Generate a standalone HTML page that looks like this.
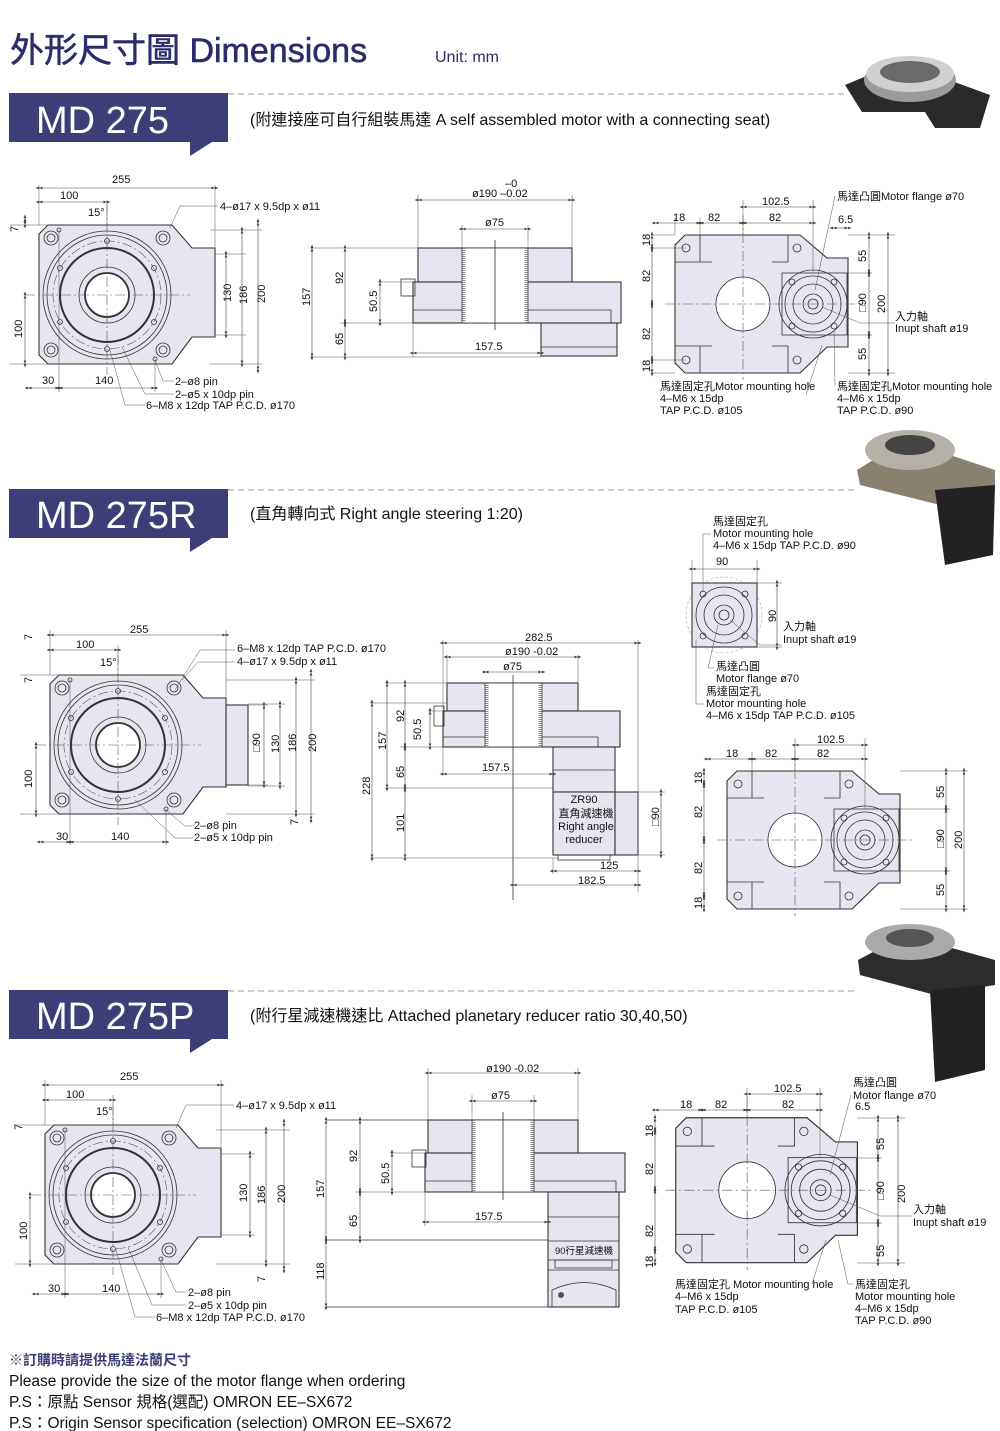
<!DOCTYPE html>
<html><head><meta charset="utf-8"><style>
html,body{margin:0;padding:0;background:#fff}
svg{display:block}
text{font-family:"Liberation Sans","Noto Sans CJK TC",sans-serif;fill:#111}
.s{font-size:11px}
.b{fill:#e6e6f1;stroke:#333;stroke-width:1.1}
.l{fill:none;stroke:#333;stroke-width:0.8}
.t{fill:none;stroke:#333;stroke-width:2}
.c{fill:none;stroke:#555;stroke-width:0.6;stroke-dasharray:10 3 2 3}
.d{fill:none;stroke:#444;stroke-width:0.6;marker-start:url(#a);marker-end:url(#a)}
.e{fill:none;stroke:#555;stroke-width:0.5}
</style></head><body>
<svg width="1000" height="1431" viewBox="0 0 1000 1431" xmlns="http://www.w3.org/2000/svg">
<defs>
<marker id="a" viewBox="0 0 10 10" refX="5" refY="5" markerWidth="7" markerHeight="7" orient="auto-start-reverse" markerUnits="userSpaceOnUse"><path d="M0,3 L5,5 L0,7 Z M5,3 L10,5 L5,7Z" fill="#444"/></marker>
<g id="tv">
<path class="b" d="M48,225 L172,225 L192,248 L215,248 L215,337 L192,337 L172,364 L48,364 L39,355 L39,234 Z"/>
<circle class="l" cx="107" cy="295" r="64"/>
<circle class="l" cx="107" cy="295" r="60"/>
<circle class="c" cx="107" cy="295" r="54"/>
<circle class="t" cx="107" cy="295" r="47"/>
<circle class="l" cx="107" cy="295" r="28" fill="#fff"/>
<circle cx="107" cy="295" r="22" fill="#fff" stroke="#333" stroke-width="1.8"/>
<g class="l"><circle cx="51" cy="238" r="7"/><circle cx="51" cy="238" r="4"/><circle cx="163" cy="238" r="7"/><circle cx="163" cy="238" r="4"/><circle cx="51" cy="350" r="7"/><circle cx="51" cy="350" r="4"/><circle cx="163" cy="350" r="7"/><circle cx="163" cy="350" r="4"/>
<circle cx="107" cy="241" r="2.5"/><circle cx="154" cy="268" r="2.5"/><circle cx="154" cy="322" r="2.5"/><circle cx="107" cy="349" r="2.5"/><circle cx="60" cy="322" r="2.5"/><circle cx="60" cy="268" r="2.5"/><circle cx="59" cy="230" r="2"/><circle cx="155" cy="359" r="2"/></g>
<line class="c" x1="107" y1="205" x2="107" y2="375"/><line class="c" x1="25" y1="295" x2="190" y2="295"/>
</g>
<g id="rv">
<path class="b" d="M685,235 L800,235 L827,258 L848,258 L848,347 L827,347 L800,373 L685,373 L675,363 L675,245 Z"/>
<g class="l"><path d="M700,235 V262 H712 M675,262 H700 M788,235 V262 H772 M700,373 V346 H712 M675,346 H700 M788,373 V346 H772"/>
<circle cx="743" cy="304" r="27" fill="#fff"/>
<rect x="782" y="273" width="65" height="62"/>
<circle cx="813" cy="304" r="34"/><circle cx="813" cy="304" r="28"/><circle cx="813" cy="304" r="20"/><circle cx="813" cy="304" r="10"/><circle cx="813" cy="304" r="5"/>
<circle cx="686" cy="248" r="4"/><circle cx="797" cy="248" r="4"/><circle cx="686" cy="360" r="4"/><circle cx="797" cy="360" r="4"/>
<circle cx="792" cy="282" r="3"/><circle cx="834" cy="282" r="3"/><circle cx="792" cy="326" r="3"/><circle cx="834" cy="326" r="3"/></g>
<line class="c" x1="665" y1="304" x2="860" y2="304"/><line class="c" x1="743" y1="215" x2="743" y2="380"/>
</g>
</defs>

<!-- Title -->
<text x="10" y="62" style="font-size:34px;fill:#2b2d6b;stroke:#2b2d6b;stroke-width:0.6">外形尺寸圖 Dimensions</text>
<text x="435" y="62" style="font-size:16px;fill:#2b2d6b">Unit: mm</text>

<!-- Banners -->
<g>
<path d="M9,93 H228 V142 H212 L190,156 V142 H9Z" fill="#3d3e78"/>
<text x="36" y="133" style="font-size:38px;fill:#fff">MD 275</text>
<line x1="228" y1="94" x2="845" y2="94" stroke="#999" stroke-dasharray="6 4"/>
<text x="250" y="125" style="font-size:16px">(附連接座可自行組裝馬達  A self assembled motor with a connecting seat)</text>
<path d="M9,489 H228 V538 H212 L190,552 V538 H9Z" fill="#3d3e78"/>
<text x="36" y="528" style="font-size:38px;fill:#fff">MD 275R</text>
<line x1="228" y1="490" x2="858" y2="490" stroke="#999" stroke-dasharray="6 4"/>
<text x="250" y="519" style="font-size:16px">(直角轉向式 Right angle steering 1:20)</text>
<path d="M9,990 H228 V1039 H212 L190,1053 V1039 H9Z" fill="#3d3e78"/>
<text x="36" y="1029" style="font-size:38px;fill:#fff">MD 275P</text>
<line x1="228" y1="991" x2="858" y2="991" stroke="#999" stroke-dasharray="6 4"/>
<text x="250" y="1021" style="font-size:16px">(附行星減速機速比 Attached planetary reducer ratio 30,40,50)</text>
</g>

<!-- Photos -->
<g>
<path d="M845,85 L900,62 L990,95 L980,128 L935,128 L925,112 L862,112 Z" fill="#2a2a2a"/>
<ellipse cx="910" cy="80" rx="46" ry="22" fill="#9a9a9a"/><ellipse cx="910" cy="74" rx="44" ry="18" fill="#d0d0d0"/><ellipse cx="910" cy="72" rx="30" ry="11" fill="#6a6a6a"/>
<path d="M857,470 L905,440 L995,470 L995,490 L940,505 L860,485Z" fill="#8a8070"/>
<ellipse cx="910" cy="450" rx="45" ry="20" fill="#b5b0a8"/><ellipse cx="910" cy="445" rx="25" ry="10" fill="#444"/>
<path d="M935,490 L995,485 L993,555 L945,565 Z" fill="#222"/>
<path d="M858,960 L905,935 L995,960 L995,985 L935,995 L860,975Z" fill="#2c2c2c"/>
<ellipse cx="910" cy="942" rx="45" ry="18" fill="#aaa"/><ellipse cx="910" cy="938" rx="24" ry="9" fill="#555"/>
<path d="M930,990 L985,985 L985,1070 L935,1082 Z" fill="#222"/>
</g>

<!-- ================= Section 1 ================= -->
<use href="#tv"/>
<g>
<line class="e" x1="39" y1="185" x2="39" y2="225"/><line class="e" x1="215" y1="185" x2="215" y2="248"/><line class="e" x1="107" y1="200" x2="107" y2="225"/>
<line class="d" x1="39" y1="188" x2="215" y2="188"/><text class="s" x="112" y="183">255</text>
<line class="d" x1="39" y1="202" x2="107" y2="202"/><text class="s" x="60" y="199">100</text>
<text class="s" x="88" y="216">15°</text>
<line class="e" x1="210" y1="230" x2="262" y2="230"/><line class="e" x1="210" y1="364" x2="262" y2="364"/><line class="e" x1="215" y1="254" x2="246" y2="254"/><line class="e" x1="215" y1="335" x2="246" y2="335"/>
<line class="d" x1="226" y1="254" x2="226" y2="335"/><text class="s" transform="rotate(-90 231 302)" x="231" y="302">130</text>
<line class="d" x1="242" y1="230" x2="242" y2="364"/><text class="s" transform="rotate(-90 247 304)" x="247" y="304">186</text>
<line class="d" x1="258" y1="222" x2="258" y2="370"/><text class="s" transform="rotate(-90 265 303)" x="265" y="303">200</text>
<line class="d" x1="25" y1="295" x2="25" y2="364"/><text class="s" transform="rotate(-90 22 338)" x="22" y="338">100</text>
<line class="d" x1="25" y1="218" x2="25" y2="225"/><text class="s" transform="rotate(-90 18 232)" x="18" y="232">7</text>
<line class="e" x1="10" y1="225" x2="48" y2="225"/><line class="e" x1="10" y1="364" x2="48" y2="364"/>
<line class="e" x1="59" y1="230" x2="59" y2="392"/><line class="e" x1="155" y1="359" x2="155" y2="392"/>
<line class="d" x1="28" y1="388" x2="59" y2="388"/><text class="s" x="42" y="384">30</text>
<line class="d" x1="59" y1="388" x2="155" y2="388"/><text class="s" x="95" y="384">140</text>
<text class="s" x="220" y="210">4–ø17 x 9.5dp x ø11</text><line class="e" x1="170" y1="228" x2="180" y2="206"/><line class="e" x1="180" y1="206" x2="218" y2="206"/>
<text class="s" x="175" y="385">2–ø8 pin</text><text class="s" x="175" y="398">2–ø5 x 10dp pin</text><text class="s" x="146" y="409">6–M8 x 12dp TAP P.C.D. ø170</text>
<path class="e" d="M155,360 L163,381 H174 M122,347 L145,394 H174 M110,350 L125,405 H145"/>
</g>
<!-- side 1 -->
<g>
<rect class="b" x="418" y="248" width="154" height="34"/>
<rect class="b" x="413" y="282" width="208" height="41"/>
<line class="l" x1="413" y1="310" x2="611" y2="310"/><line class="l" x1="611" y1="310" x2="611" y2="323"/>
<rect x="462" y="248" width="66" height="75" fill="#fff" stroke="#333" stroke-width="0.8"/>
<line x1="464" y1="248" x2="464" y2="323" stroke="#888" stroke-width="3" stroke-dasharray="1 1"/><line x1="526" y1="248" x2="526" y2="323" stroke="#888" stroke-width="3" stroke-dasharray="1 1"/>
<line class="l" x1="495" y1="240" x2="495" y2="330"/>
<rect class="b" x="541" y="323" width="76" height="33"/><line class="l" x1="541" y1="347" x2="617" y2="347"/>
<rect class="l" x="401" y="279" width="14" height="17"/>
<line class="e" x1="310" y1="248" x2="418" y2="248"/><line class="e" x1="340" y1="323" x2="413" y2="323"/><line class="e" x1="310" y1="357" x2="541" y2="357"/><line class="e" x1="378" y1="282" x2="413" y2="282"/>
<line class="d" x1="312" y1="248" x2="312" y2="357"/><text class="s" transform="rotate(-90 310 306)" x="310" y="306">157</text>
<line class="d" x1="345" y1="248" x2="345" y2="323"/><text class="s" transform="rotate(-90 343 284)" x="343" y="284">92</text>
<line class="d" x1="345" y1="323" x2="345" y2="357"/><text class="s" transform="rotate(-90 343 345)" x="343" y="345">65</text>
<line class="d" x1="380" y1="282" x2="380" y2="323"/><text class="s" transform="rotate(-90 377 312)" x="377" y="312">50.5</text>
<line class="e" x1="418" y1="195" x2="418" y2="248"/><line class="e" x1="572" y1="195" x2="572" y2="248"/><line class="e" x1="462" y1="225" x2="462" y2="248"/><line class="e" x1="528" y1="225" x2="528" y2="248"/><line class="e" x1="413" y1="323" x2="413" y2="357"/>
<line class="d" x1="418" y1="200" x2="572" y2="200"/><text class="s" x="472" y="197">ø190 –0.02</text><text class="s" x="505" y="187">–0</text>
<line class="d" x1="462" y1="229" x2="528" y2="229"/><text class="s" x="485" y="226">ø75</text>
<line class="d" x1="413" y1="353" x2="541" y2="353"/><text class="s" x="475" y="350">157.5</text>
</g>
<!-- right 1 -->
<use href="#rv"/>
<g>
<line class="e" x1="675" y1="218" x2="675" y2="235"/><line class="e" x1="700" y1="218" x2="700" y2="235"/><line class="e" x1="813" y1="200" x2="813" y2="273"/><line class="e" x1="743" y1="200" x2="743" y2="235"/>
<line class="d" x1="655" y1="223" x2="700" y2="223"/><text class="s" x="673" y="221">18</text>
<line class="d" x1="700" y1="223" x2="743" y2="223"/><text class="s" x="708" y="221">82</text>
<line class="d" x1="743" y1="223" x2="813" y2="223"/><text class="s" x="769" y="221">82</text>
<line class="d" x1="743" y1="207" x2="813" y2="207"/><text class="s" x="762" y="205">102.5</text>
<line class="d" x1="833" y1="228" x2="848" y2="228"/><text class="s" x="838" y="223">6.5</text>
<text class="s" x="837" y="200">馬達凸圓Motor flange ø70</text><line class="e" x1="835" y1="196" x2="815" y2="290"/>
<line class="e" x1="652" y1="235" x2="675" y2="235"/><line class="e" x1="652" y1="373" x2="675" y2="373"/><line class="e" x1="652" y1="248" x2="686" y2="248"/><line class="e" x1="652" y1="360" x2="686" y2="360"/>
<line class="d" x1="652" y1="235" x2="652" y2="248"/><text class="s" transform="rotate(-90 650 246)" x="650" y="246">18</text>
<line class="d" x1="652" y1="248" x2="652" y2="304"/><text class="s" transform="rotate(-90 650 282)" x="650" y="282">82</text>
<line class="d" x1="652" y1="304" x2="652" y2="360"/><text class="s" transform="rotate(-90 650 340)" x="650" y="340">82</text>
<line class="d" x1="652" y1="360" x2="652" y2="373"/><text class="s" transform="rotate(-90 650 372)" x="650" y="372">18</text>
<line class="e" x1="848" y1="235" x2="895" y2="235"/><line class="e" x1="848" y1="373" x2="895" y2="373"/><line class="e" x1="848" y1="273" x2="872" y2="273"/><line class="e" x1="848" y1="335" x2="872" y2="335"/>
<line class="d" x1="869" y1="235" x2="869" y2="273"/><text class="s" transform="rotate(-90 866 262)" x="866" y="262">55</text>
<line class="d" x1="869" y1="273" x2="869" y2="335"/><text class="s" transform="rotate(-90 866 312)" x="866" y="312">□90</text>
<line class="d" x1="869" y1="335" x2="869" y2="373"/><text class="s" transform="rotate(-90 866 360)" x="866" y="360">55</text>
<line class="d" x1="888" y1="235" x2="888" y2="373"/><text class="s" transform="rotate(-90 885 313)" x="885" y="313">200</text>
<text class="s" x="895" y="320">入力軸</text><text class="s" x="895" y="332">Inupt shaft ø19</text><line class="e" x1="895" y1="323" x2="860" y2="323"/><line class="e" x1="860" y1="323" x2="822" y2="307"/>
<text class="s" x="660" y="390">馬達固定孔Motor mounting hole</text><text class="s" x="660" y="402">4–M6 x 15dp</text><text class="s" x="660" y="414">TAP P.C.D. ø105</text>
<text class="s" x="837" y="390">馬達固定孔Motor mounting hole</text><text class="s" x="837" y="402">4–M6 x 15dp</text><text class="s" x="837" y="414">TAP P.C.D. ø90</text>
<path class="e" d="M822,345 L806,395 M834,330 L835,386"/>
</g>

<!-- ================= Section 2 ================= -->
<use href="#tv" transform="translate(11,450)"/>
<g>
<rect class="b" x="226" y="705" width="22" height="80"/>
<line class="e" x1="50" y1="630" x2="50" y2="675"/><line class="e" x1="226" y1="630" x2="226" y2="698"/><line class="e" x1="118" y1="645" x2="118" y2="675"/>
<line class="d" x1="50" y1="635" x2="226" y2="635"/><text class="s" x="130" y="633">255</text>
<line class="d" x1="50" y1="650" x2="118" y2="650"/><text class="s" x="76" y="648">100</text>
<text class="s" x="100" y="666">15°</text>
<line class="e" x1="248" y1="705" x2="268" y2="705"/><line class="e" x1="248" y1="785" x2="268" y2="785"/>
<line class="d" x1="264" y1="705" x2="264" y2="785"/><text class="s" transform="rotate(-90 260 752)" x="260" y="752">□90</text>
<line class="e" x1="226" y1="680" x2="315" y2="680"/><line class="e" x1="226" y1="814" x2="315" y2="814"/><line class="e" x1="248" y1="704" x2="285" y2="704"/><line class="e" x1="248" y1="786" x2="285" y2="786"/>
<line class="d" x1="280" y1="704" x2="280" y2="786"/><text class="s" transform="rotate(-90 279 753)" x="279" y="753">130</text>
<line class="d" x1="296" y1="680" x2="296" y2="814"/><text class="s" transform="rotate(-90 296 752)" x="296" y="752">186</text>
<line class="d" x1="311" y1="672" x2="311" y2="820"/><text class="s" transform="rotate(-90 316 752)" x="316" y="752">200</text>
<line class="d" x1="36" y1="745" x2="36" y2="814"/><text class="s" transform="rotate(-90 32 788)" x="32" y="788">100</text>
<text class="s" transform="rotate(-90 32 640)" x="32" y="640">7</text><text class="s" transform="rotate(-90 32 683)" x="32" y="683">7</text>
<text class="s" transform="rotate(-90 298 825)" x="298" y="825">7</text>
<line class="e" x1="20" y1="675" x2="59" y2="675"/><line class="e" x1="20" y1="814" x2="59" y2="814"/>
<line class="e" x1="70" y1="680" x2="70" y2="845"/><line class="e" x1="166" y1="809" x2="166" y2="845"/>
<line class="d" x1="40" y1="842" x2="70" y2="842"/><text class="s" x="56" y="840">30</text>
<line class="d" x1="70" y1="842" x2="166" y2="842"/><text class="s" x="111" y="840">140</text>
<text class="s" x="237" y="652">6–M8 x 12dp TAP P.C.D. ø170</text><text class="s" x="237" y="665">4–ø17 x 9.5dp x ø11</text>
<path class="e" d="M182,680 L198,662 H235 M175,690 L200,650 H235"/>
<text class="s" x="194" y="829">2–ø8 pin</text><text class="s" x="194" y="841">2–ø5 x 10dp pin</text>
<path class="e" d="M166,810 L185,826 H193 M135,800 L175,838 H193"/>
</g>
<!-- side 2 -->
<g>
<rect class="b" x="447" y="683" width="131" height="28"/>
<rect class="b" x="443" y="711" width="177" height="36"/>
<line class="l" x1="443" y1="737" x2="598" y2="737"/><line class="l" x1="598" y1="737" x2="598" y2="747"/>
<rect x="485" y="683" width="57" height="64" fill="#fff" stroke="#333" stroke-width="0.8"/>
<line x1="487" y1="683" x2="487" y2="747" stroke="#888" stroke-width="3" stroke-dasharray="1 1"/><line x1="540" y1="683" x2="540" y2="747" stroke="#888" stroke-width="3" stroke-dasharray="1 1"/>
<line class="l" x1="513" y1="675" x2="513" y2="900"/>
<rect class="b" x="553" y="747" width="62" height="45"/><line class="l" x1="553" y1="770" x2="615" y2="770"/>
<rect class="b" x="553" y="792" width="62" height="63"/>
<rect class="b" x="615" y="792" width="23" height="63"/>
<rect class="l" x="558" y="855" width="52" height="5"/>
<rect class="l" x="434" y="706" width="10" height="20"/>
<text x="584" y="803" text-anchor="middle" style="font-size:11px">ZR90</text>
<text x="586" y="817" text-anchor="middle" style="font-size:11px">直角減速機</text>
<text x="586" y="830" text-anchor="middle" style="font-size:11px">Right angle</text>
<text x="584" y="843" text-anchor="middle" style="font-size:11px">reducer</text>
<line class="e" x1="370" y1="703" x2="447" y2="703"/><line class="e" x1="385" y1="683" x2="447" y2="683"/><line class="e" x1="400" y1="747" x2="443" y2="747"/><line class="e" x1="385" y1="788" x2="553" y2="788"/><line class="e" x1="370" y1="858" x2="558" y2="858"/><line class="e" x1="428" y1="711" x2="443" y2="711"/>
<line class="d" x1="372" y1="703" x2="372" y2="858"/><text class="s" transform="rotate(-90 370 795)" x="370" y="795">228</text>
<line class="d" x1="387" y1="683" x2="387" y2="788"/><text class="s" transform="rotate(-90 386 750)" x="386" y="750">157</text>
<line class="d" x1="405" y1="683" x2="405" y2="747"/><text class="s" transform="rotate(-90 404 722)" x="404" y="722">92</text>
<line class="d" x1="405" y1="747" x2="405" y2="788"/><text class="s" transform="rotate(-90 404 778)" x="404" y="778">65</text>
<line class="d" x1="405" y1="788" x2="405" y2="858"/><text class="s" transform="rotate(-90 404 832)" x="404" y="832">101</text>
<line class="d" x1="430" y1="711" x2="430" y2="747"/><text class="s" transform="rotate(-90 421 740)" x="421" y="740">50.5</text>
<line class="e" x1="443" y1="640" x2="443" y2="711"/><line class="e" x1="638" y1="640" x2="638" y2="892"/><line class="e" x1="447" y1="655" x2="447" y2="683"/><line class="e" x1="578" y1="655" x2="578" y2="683"/><line class="e" x1="443" y1="747" x2="443" y2="776"/><line class="e" x1="553" y1="858" x2="553" y2="874"/><line class="e" x1="638" y1="792" x2="665" y2="792"/><line class="e" x1="638" y1="855" x2="665" y2="855"/>
<line class="d" x1="443" y1="643" x2="638" y2="643"/><text class="s" x="525" y="641">282.5</text>
<line class="d" x1="447" y1="657" x2="578" y2="657"/><text class="s" x="505" y="655">ø190 -0.02</text>
<line class="d" x1="485" y1="672" x2="542" y2="672"/><text class="s" x="503" y="670">ø75</text>
<line class="d" x1="443" y1="774" x2="553" y2="774"/><text class="s" x="482" y="771">157.5</text>
<line class="d" x1="553" y1="871" x2="638" y2="871"/><text class="s" x="600" y="869">125</text>
<line class="d" x1="513" y1="885" x2="638" y2="885"/><text class="s" x="578" y="884">182.5</text>
<line class="d" x1="661" y1="792" x2="661" y2="855"/><text class="s" transform="rotate(-90 659 826)" x="659" y="826">□90</text>
</g>
<!-- small square view 2 -->
<g>
<circle cx="724" cy="615" r="38" fill="none" stroke="#aaa" stroke-width="0.6" stroke-dasharray="3 2"/>
<rect class="b" x="692" y="583" width="65" height="64"/>
<g class="l"><circle cx="724" cy="615" r="28"/><circle cx="724" cy="615" r="20"/><circle cx="724" cy="615" r="10"/><circle cx="724" cy="615" r="5"/>
<circle cx="703" cy="594" r="3"/><circle cx="745" cy="594" r="3"/><circle cx="703" cy="636" r="3"/><circle cx="745" cy="636" r="3"/></g>
<line class="e" x1="692" y1="560" x2="692" y2="583"/><line class="e" x1="757" y1="560" x2="757" y2="583"/>
<line class="d" x1="692" y1="569" x2="757" y2="569"/><text class="s" x="716" y="565">90</text>
<line class="e" x1="757" y1="583" x2="782" y2="583"/><line class="e" x1="757" y1="647" x2="782" y2="647"/>
<line class="d" x1="777" y1="583" x2="777" y2="647"/><text class="s" transform="rotate(-90 776 622)" x="776" y="622">90</text>
<text class="s" x="713" y="525">馬達固定孔</text><text class="s" x="713" y="537">Motor mounting hole</text><text class="s" x="713" y="549">4–M6 x 15dp TAP P.C.D. ø90</text>
<path class="e" d="M711,534 H703 V592"/>
<text class="s" x="783" y="630">入力軸</text><text class="s" x="783" y="643">Inupt shaft ø19</text><line class="e" x1="782" y1="645" x2="760" y2="645"/><line class="e" x1="760" y1="645" x2="730" y2="620"/>
<text class="s" x="716" y="670">馬達凸圓</text><text class="s" x="716" y="682">Motor flange ø70</text>
<text class="s" x="706" y="695">馬達固定孔</text><text class="s" x="706" y="707">Motor mounting hole</text><text class="s" x="706" y="719">4–M6 x 15dp TAP P.C.D. ø105</text>
<path class="e" d="M714,668 H708 L718,625 M704,704 H696 V640"/>
</g>
<!-- right 2 -->
<use href="#rv" transform="translate(52,536)"/>
<g>
<line class="d" x1="707" y1="759" x2="752" y2="759"/><text class="s" x="726" y="757">18</text>
<line class="d" x1="752" y1="759" x2="795" y2="759"/><text class="s" x="765" y="757">82</text>
<line class="d" x1="795" y1="759" x2="865" y2="759"/><text class="s" x="817" y="757">82</text>
<line class="d" x1="795" y1="745" x2="865" y2="745"/><text class="s" x="817" y="743">102.5</text>
<line class="e" x1="795" y1="738" x2="795" y2="771"/><line class="e" x1="865" y1="738" x2="865" y2="809"/><line class="e" x1="752" y1="752" x2="752" y2="771"/>
<line class="d" x1="704" y1="771" x2="704" y2="784"/><text class="s" transform="rotate(-90 702 784)" x="702" y="784">18</text>
<line class="d" x1="704" y1="784" x2="704" y2="840"/><text class="s" transform="rotate(-90 702 818)" x="702" y="818">82</text>
<line class="d" x1="704" y1="840" x2="704" y2="896"/><text class="s" transform="rotate(-90 702 874)" x="702" y="874">82</text>
<line class="d" x1="704" y1="896" x2="704" y2="909"/><text class="s" transform="rotate(-90 702 909)" x="702" y="909">18</text>
<line class="e" x1="900" y1="771" x2="968" y2="771"/><line class="e" x1="900" y1="909" x2="968" y2="909"/><line class="e" x1="900" y1="809" x2="950" y2="809"/><line class="e" x1="900" y1="871" x2="950" y2="871"/>
<line class="d" x1="946" y1="771" x2="946" y2="809"/><text class="s" transform="rotate(-90 944 798)" x="944" y="798">55</text>
<line class="d" x1="946" y1="809" x2="946" y2="871"/><text class="s" transform="rotate(-90 944 848)" x="944" y="848">□90</text>
<line class="d" x1="946" y1="871" x2="946" y2="909"/><text class="s" transform="rotate(-90 944 896)" x="944" y="896">55</text>
<line class="d" x1="964" y1="771" x2="964" y2="909"/><text class="s" transform="rotate(-90 962 849)" x="962" y="849">200</text>
</g>

<!-- ================= Section 3 ================= -->
<use href="#tv" transform="translate(6,900)"/>
<g>
<line class="e" x1="45" y1="1080" x2="45" y2="1125"/><line class="e" x1="221" y1="1080" x2="221" y2="1148"/><line class="e" x1="113" y1="1095" x2="113" y2="1125"/>
<line class="d" x1="45" y1="1085" x2="221" y2="1085"/><text class="s" x="120" y="1080">255</text>
<line class="d" x1="45" y1="1100" x2="113" y2="1100"/><text class="s" x="66" y="1098">100</text>
<text class="s" x="96" y="1115">15°</text>
<line class="e" x1="216" y1="1130" x2="290" y2="1130"/><line class="e" x1="216" y1="1264" x2="290" y2="1264"/><line class="e" x1="221" y1="1154" x2="255" y2="1154"/><line class="e" x1="221" y1="1235" x2="255" y2="1235"/>
<line class="d" x1="250" y1="1154" x2="250" y2="1235"/><text class="s" transform="rotate(-90 247 1202)" x="247" y="1202">130</text>
<line class="d" x1="266" y1="1130" x2="266" y2="1264"/><text class="s" transform="rotate(-90 265 1204)" x="265" y="1204">186</text>
<line class="d" x1="284" y1="1122" x2="284" y2="1270"/><text class="s" transform="rotate(-90 285 1203)" x="285" y="1203">200</text>
<line class="d" x1="30" y1="1195" x2="30" y2="1264"/><text class="s" transform="rotate(-90 27 1240)" x="27" y="1240">100</text>
<text class="s" transform="rotate(-90 22 1130)" x="22" y="1130">7</text>
<text class="s" transform="rotate(-90 265 1282)" x="265" y="1282">7</text>
<line class="e" x1="15" y1="1125" x2="54" y2="1125"/><line class="e" x1="15" y1="1264" x2="54" y2="1264"/>
<line class="e" x1="65" y1="1130" x2="65" y2="1298"/><line class="e" x1="161" y1="1259" x2="161" y2="1298"/>
<line class="d" x1="35" y1="1294" x2="65" y2="1294"/><text class="s" x="48" y="1292">30</text>
<line class="d" x1="65" y1="1294" x2="161" y2="1294"/><text class="s" x="102" y="1292">140</text>
<text class="s" x="236" y="1109">4–ø17 x 9.5dp x ø11</text><path class="e" d="M176,1128 L186,1105 H234"/>
<text class="s" x="188" y="1296">2–ø8 pin</text><text class="s" x="188" y="1309">2–ø5 x 10dp pin</text><text class="s" x="156" y="1321">6–M8 x 12dp TAP P.C.D. ø170</text>
<path class="e" d="M161,1260 L176,1292 H186 M128,1247 L152,1305 H186 M116,1250 L135,1317 H155"/>
</g>
<!-- side 3 -->
<g>
<rect class="b" x="428" y="1120" width="150" height="33"/>
<rect class="b" x="425" y="1153" width="200" height="39"/>
<line class="l" x1="425" y1="1181" x2="616" y2="1181"/><line class="l" x1="616" y1="1181" x2="616" y2="1192"/>
<rect x="472" y="1120" width="62" height="72" fill="#fff" stroke="#333" stroke-width="0.8"/>
<line x1="474" y1="1120" x2="474" y2="1192" stroke="#888" stroke-width="3" stroke-dasharray="1 1"/><line x1="532" y1="1120" x2="532" y2="1192" stroke="#888" stroke-width="3" stroke-dasharray="1 1"/>
<line class="l" x1="503" y1="1112" x2="503" y2="1200"/>
<rect class="b" x="548" y="1192" width="71" height="115"/>
<g class="l"><line x1="548" y1="1217" x2="619" y2="1217"/><line x1="548" y1="1241" x2="619" y2="1241"/><line x1="548" y1="1260" x2="619" y2="1260"/><rect x="555" y="1260" width="57" height="8"/><line x1="548" y1="1270" x2="619" y2="1270"/><path d="M552,1307 V1290 Q584,1275 616,1290 V1307"/></g>
<circle cx="561" cy="1295" r="3" fill="#555"/>
<text x="584" y="1254" text-anchor="middle" style="font-size:9.5px">90行星減速機</text>
<rect class="l" x="412" y="1150" width="14" height="17"/>
<line class="l" x1="326" y1="1120" x2="428" y2="1120"/><line class="l" x1="326" y1="1240" x2="548" y2="1240"/><line class="l" x1="326" y1="1307" x2="548" y2="1307"/>
<line class="e" x1="355" y1="1192" x2="425" y2="1192"/><line class="e" x1="390" y1="1153" x2="425" y2="1153"/>
<line class="d" x1="326" y1="1120" x2="326" y2="1240"/><text class="s" transform="rotate(-90 324 1198)" x="324" y="1198">157</text>
<line class="d" x1="360" y1="1120" x2="360" y2="1192"/><text class="s" transform="rotate(-90 357 1162)" x="357" y="1162">92</text>
<line class="d" x1="360" y1="1192" x2="360" y2="1240"/><text class="s" transform="rotate(-90 357 1227)" x="357" y="1227">65</text>
<line class="d" x1="326" y1="1240" x2="326" y2="1307"/><text class="s" transform="rotate(-90 324 1280)" x="324" y="1280">118</text>
<line class="d" x1="392" y1="1153" x2="392" y2="1192"/><text class="s" transform="rotate(-90 389 1184)" x="389" y="1184">50.5</text>
<line class="e" x1="428" y1="1068" x2="428" y2="1120"/><line class="e" x1="578" y1="1068" x2="578" y2="1120"/><line class="e" x1="472" y1="1095" x2="472" y2="1120"/><line class="e" x1="534" y1="1095" x2="534" y2="1120"/><line class="e" x1="425" y1="1192" x2="425" y2="1226"/>
<line class="d" x1="428" y1="1073" x2="578" y2="1073"/><text class="s" x="486" y="1072">ø190 -0.02</text>
<line class="d" x1="472" y1="1101" x2="534" y2="1101"/><text class="s" x="491" y="1099">ø75</text>
<line class="d" x1="425" y1="1222" x2="548" y2="1222"/><text class="s" x="475" y="1220">157.5</text>
</g>
<!-- right 3 -->
<use href="#rv" transform="translate(-33,871) scale(1.05)"/>
<g>
<line class="d" x1="655" y1="1110" x2="702" y2="1110"/><text class="s" x="680" y="1108">18</text>
<line class="d" x1="702" y1="1110" x2="747" y2="1110"/><text class="s" x="715" y="1108">82</text>
<line class="d" x1="747" y1="1110" x2="820" y2="1110"/><text class="s" x="782" y="1108">82</text>
<line class="d" x1="747" y1="1094" x2="820" y2="1094"/><text class="s" x="774" y="1092">102.5</text>
<line class="e" x1="747" y1="1088" x2="747" y2="1118"/><line class="e" x1="820" y1="1088" x2="820" y2="1158"/>
<text class="s" x="853" y="1086">馬達凸圓</text><text class="s" x="853" y="1099">Motor flange ø70</text><text class="s" x="855" y="1110">6.5</text>
<line class="e" x1="851" y1="1095" x2="830" y2="1175"/>
<line class="d" x1="655" y1="1118" x2="655" y2="1131"/><text class="s" transform="rotate(-90 653 1137)" x="653" y="1137">18</text>
<line class="d" x1="655" y1="1131" x2="655" y2="1190"/><text class="s" transform="rotate(-90 653 1175)" x="653" y="1175">82</text>
<line class="d" x1="655" y1="1190" x2="655" y2="1250"/><text class="s" transform="rotate(-90 653 1237)" x="653" y="1237">82</text>
<line class="d" x1="655" y1="1250" x2="655" y2="1263"/><text class="s" transform="rotate(-90 653 1268)" x="653" y="1268">18</text>
<line class="e" x1="857" y1="1118" x2="905" y2="1118"/><line class="e" x1="857" y1="1263" x2="905" y2="1263"/><line class="e" x1="857" y1="1158" x2="882" y2="1158"/><line class="e" x1="857" y1="1223" x2="882" y2="1223"/>
<line class="d" x1="878" y1="1118" x2="878" y2="1158"/><text class="s" transform="rotate(-90 884 1150)" x="884" y="1150">55</text>
<line class="d" x1="878" y1="1158" x2="878" y2="1223"/><text class="s" transform="rotate(-90 884 1200)" x="884" y="1200">□90</text>
<line class="d" x1="878" y1="1223" x2="878" y2="1263"/><text class="s" transform="rotate(-90 884 1257)" x="884" y="1257">55</text>
<line class="d" x1="898" y1="1118" x2="898" y2="1263"/><text class="s" transform="rotate(-90 905 1203)" x="905" y="1203">200</text>
<text class="s" x="913" y="1213">入力軸</text><text class="s" x="913" y="1226">Inupt shaft ø19</text><path class="e" d="M912,1216 H880 L830,1195"/>
<text class="s" x="675" y="1288">馬達固定孔 Motor mounting hole</text><text class="s" x="675" y="1300">4–M6 x 15dp</text><text class="s" x="675" y="1313">TAP P.C.D. ø105</text>
<text class="s" x="855" y="1288">馬達固定孔</text><text class="s" x="855" y="1300">Motor mounting hole</text><text class="s" x="855" y="1312">4–M6 x 15dp</text><text class="s" x="855" y="1324">TAP P.C.D. ø90</text>
<path class="e" d="M853,1284 H848 L838,1240 M826,1240 L812,1284"/>
</g>

<!-- Footer -->
<text x="9" y="1365" style="font-size:14px;font-weight:bold;fill:#3d3e78">※訂購時請提供馬達法蘭尺寸</text>
<text x="9" y="1386" style="font-size:15.5px">Please provide the size of the motor flange when ordering</text>
<text x="9" y="1407" style="font-size:15.5px">P.S：原點 Sensor 規格(選配)  OMRON EE–SX672</text>
<text x="9" y="1428" style="font-size:15.5px">P.S：Origin Sensor specification (selection) OMRON EE–SX672</text>
</svg>
</body></html>
